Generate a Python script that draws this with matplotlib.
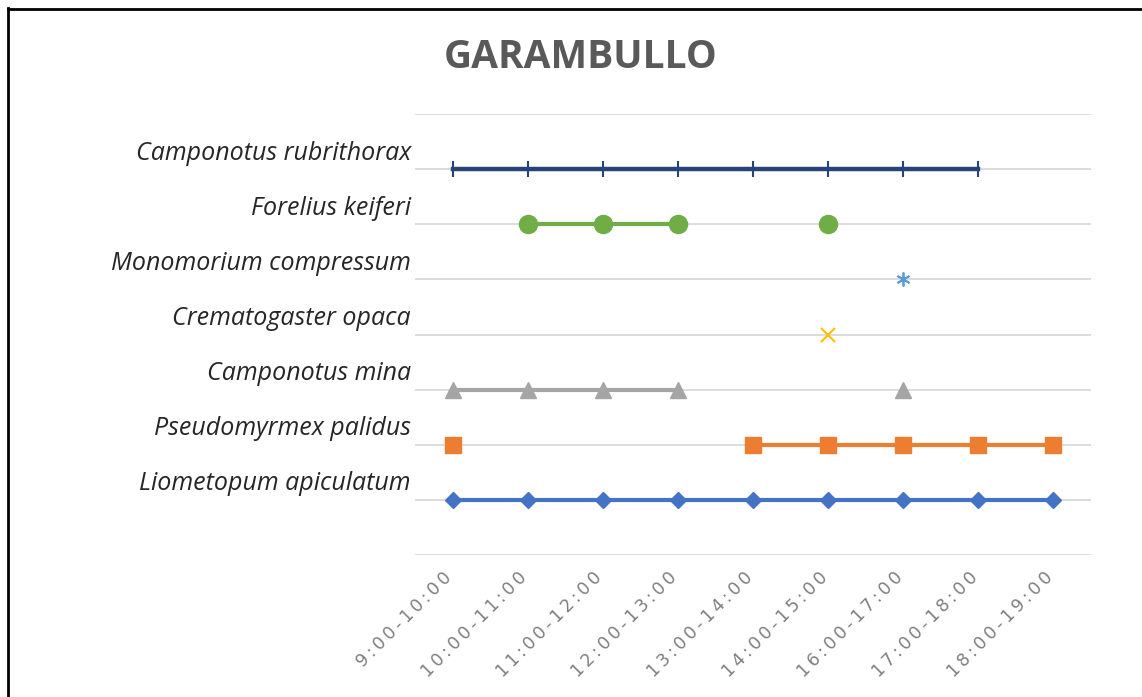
import numpy as np
import matplotlib
matplotlib.use('Agg')
import matplotlib.pyplot as plt
from matplotlib.lines import Line2D
from matplotlib.transforms import blended_transform_factory, ScaledTranslation

nan = np.nan

hours = ['9:00-10:00', '10:00-11:00', '11:00-12:00', '12:00-13:00', '13:00-14:00',
         '14:00-15:00', '16:00-17:00', '17:00-18:00', '18:00-19:00']
species = ['Liometopum apiculatum', 'Pseudomyrmex palidus', 'Camponotus mina',
           'Crematogaster opaca', 'Monomorium compressum', 'Forelius keiferi',
           'Camponotus rubrithorax']

liometopum = [1, 1, 1, 1, 1, 1, 1, 1, 1]
pseudomyrmex = [2, nan, nan, nan, 2, 2, 2, 2, 2]
camp_mina = [3, 3, 3, 3, nan, nan, 3, nan, nan]
crematogaster = [nan, nan, nan, nan, nan, 4, nan, nan, nan]
monomorium = [nan, nan, nan, nan, nan, nan, 5, nan, nan]
forelius = [nan, 6, 6, 6, nan, 6, nan, nan, nan]
camp_rubri = [7, 7, 7, 7, 7, 7, 7, 7, nan]

fig = plt.figure(figsize=(11.42, 6.97), dpi=100)
ax = fig.add_axes([415 / 1142, 1 - 555 / 697, 676 / 1142, 441 / 697])

x = np.arange(len(hours))
ax.plot(x, liometopum, color='#4472C4', lw=3, marker='D', ms=8, zorder=3)
ax.plot(x, pseudomyrmex, color='#ED7D31', lw=3, marker='s', ms=12, zorder=3)
ax.plot(x, camp_mina, color='#A5A5A5', lw=3, marker='^', ms=11, zorder=3)
ax.plot(x, crematogaster, color='#FFC000', lw=3, marker='x', ms=10, mew=1.5, zorder=3)
ax.plot(x, monomorium, color='#5B9BD5', lw=3, marker=(6, 2, 0), ms=10, mew=1.3, zorder=3)
ax.plot(x, forelius, color='#70AD47', lw=3, marker='o', ms=13, zorder=3)
ax.plot(x, camp_rubri, color='#264478', lw=3.2, marker='|', ms=12, mew=1.5, zorder=3)

ax.set_xlim(-0.5, 8.5)
ax.set_ylim(0, 8)
ax.set_yticks(range(9))
ax.set_yticklabels([])
ax.grid(axis='y', color='#D9D9D9', lw=1.3)
ax.set_axisbelow(True)
ax.tick_params(length=0)
for s in ax.spines.values():
    s.set_visible(False)

ax.set_xticks(x)
spaced = ['\u2009'.join(h) for h in hours]
ax.set_xticklabels(spaced, rotation=45, ha='right', rotation_mode='anchor',
                   fontsize=12.5, color='#7F7F7F', family='DejaVu Sans')
ax.tick_params(axis='x', pad=10)
shift = ScaledTranslation(-7 / 72, 0, fig.dpi_scale_trans)
for lbl in ax.get_xticklabels():
    lbl.set_transform(lbl.get_transform() + shift)

trans = blended_transform_factory(ax.transAxes, ax.transData)
for i, name in enumerate(species):
    ax.text(-0.006, i + 1 + 0.29, name, transform=trans, ha='right', va='center',
            fontsize=18, style='italic', family='Open Sans', color='#262626')

fig.text(0.508, 1 - 57 / 697, 'GARAMBULLO', ha='center', va='center',
         fontsize=28, fontweight='bold', family='Open Sans', color='#595959')

fig.add_artist(Line2D([8 / 1142, 8 / 1142], [0, 1 - 8 / 697], color='black', lw=2,
                      transform=fig.transFigure))
fig.add_artist(Line2D([8 / 1142, 1], [1 - 9 / 697, 1 - 9 / 697], color='black', lw=2,
                      transform=fig.transFigure))

fig.savefig('out.png', dpi=100)
